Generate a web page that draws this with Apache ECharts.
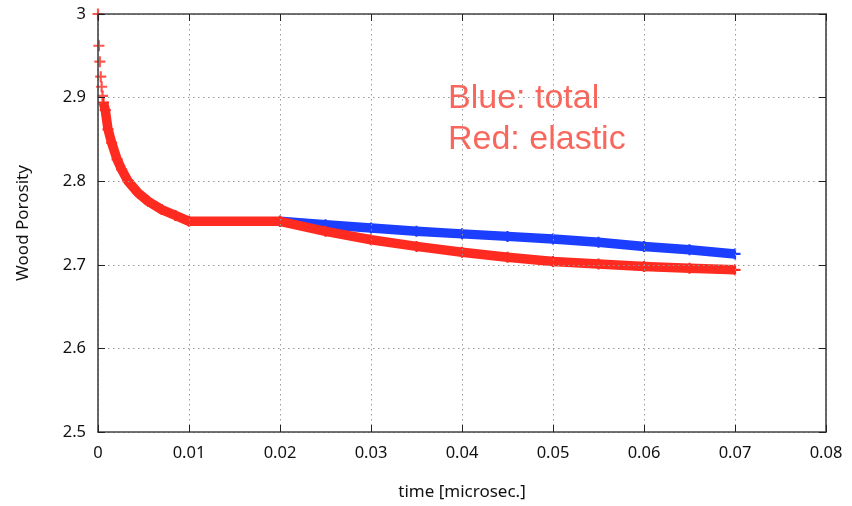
<!DOCTYPE html>
<html>
<head>
<meta charset="utf-8">
<script src="https://cdn.jsdelivr.net/npm/echarts@6/dist/echarts.min.js"></script>
<style>
html,body{margin:0;padding:0;background:#fff;}
#chart{width:852px;height:506px;}
</style>
</head>
<body>
<div id="chart"></div>
<script>
// ---- data ----
const xTicks = [0, 0.01, 0.02, 0.03, 0.04, 0.05, 0.06, 0.07, 0.08];
const yTicks = [2.5, 2.6, 2.7, 2.8, 2.9, 3];

// first separated points of the elastic (red) curve
const earlyT = [0, 0.0001, 0.0002, 0.0003, 0.0004, 0.0005];
const earlyElastic = [3.000, 2.962, 2.943, 2.925, 2.913, 2.902];

// dense part of the elastic (red) curve
const elasticT = [0.0006, 0.0008, 0.0011, 0.0015, 0.0021, 0.0026, 0.0033, 0.0044, 0.0055, 0.0070, 0.0085, 0.0100,
                  0.0200, 0.0250, 0.0300, 0.0350, 0.0400, 0.0450, 0.0500, 0.0550, 0.0600, 0.0650, 0.0700];
const elasticPorosity = [2.894, 2.885, 2.862, 2.846, 2.826, 2.814, 2.800, 2.786, 2.776, 2.766, 2.759, 2.752,
                         2.752, 2.740, 2.730, 2.722, 2.715, 2.709, 2.704, 2.701, 2.698, 2.696, 2.694];

// total (blue) curve where it separates from the elastic one
const totalT = [0.0200, 0.0250, 0.0300, 0.0350, 0.0400, 0.0450, 0.0500, 0.0550, 0.0600, 0.0650, 0.0700];
const totalPorosity = [2.752, 2.748, 2.744, 2.740, 2.737, 2.734, 2.731, 2.727, 2.722, 2.718, 2.713];

const annotationLines = ['Blue: total', 'Red: elastic'];
// ---------------------------------------

const RED = '#ff2b20';
const BLUE = '#1c3fff';
const PLUS = 'path://M0,4.4 H11 V6.6 H0 Z M4.4,0 H6.6 V11 H4.4 Z';
const FONT = 'Noto Sans';

const zip = (a, b) => a.map((v, i) => [v, b[i]]);

const chart = echarts.init(document.getElementById('chart'), null, {renderer: 'canvas'});

const tickStyle = {show: true, inside: true, length: 7, lineStyle: {color: '#222', width: 1}};
const frame = {show: true, onZero: false, lineStyle: {color: '#444', width: 1.6}};
const gridLine = {show: true, lineStyle: {color: '#9a9a9a', width: 1, type: [1.5, 3.5]}};

chart.setOption({
  animation: false,
  backgroundColor: '#fff',
  grid: {left: 98, right: 26, top: 14, bottom: 73, containLabel: false},
  xAxis: [{
    type: 'value', min: xTicks[0], max: xTicks[xTicks.length - 1], interval: 0.01,
    position: 'bottom', z: 5,
    name: 'time [microsec.]', nameLocation: 'middle', nameGap: 52,
    nameTextStyle: {fontFamily: FONT, fontSize: 17, color: '#111'},
    axisLine: frame, axisTick: tickStyle, splitLine: gridLine,
    axisLabel: {fontFamily: FONT, fontSize: 16.5, color: '#111', margin: 13,
      formatter: v => String(+v.toFixed(2))}
  }, {
    type: 'value', min: xTicks[0], max: xTicks[xTicks.length - 1], interval: 0.01,
    position: 'top', z: 5,
    axisLine: frame, axisTick: tickStyle, splitLine: {show: false}, axisLabel: {show: false}
  }],
  yAxis: [{
    type: 'value', min: yTicks[0], max: yTicks[yTicks.length - 1], interval: 0.1,
    position: 'left', z: 5,
    name: 'Wood Porosity', nameLocation: 'middle', nameGap: 66,
    nameTextStyle: {fontFamily: FONT, fontSize: 17, color: '#111'},
    axisLine: frame, axisTick: tickStyle, splitLine: gridLine,
    axisLabel: {fontFamily: FONT, fontSize: 16.5, color: '#111', margin: 12,
      formatter: v => String(+v.toFixed(1))}
  }, {
    type: 'value', min: yTicks[0], max: yTicks[yTicks.length - 1], interval: 0.1,
    position: 'right', z: 5,
    axisLine: frame, axisTick: tickStyle, splitLine: {show: false}, axisLabel: {show: false}
  }],
  graphic: [{
    type: 'text', left: 448, top: 78, z: 1,
    style: {text: annotationLines.join('\n'), fontFamily: 'Liberation Sans', fontSize: 34,
      lineHeight: 41, fill: '#f8675d'}
  }],
  series: [{
    name: 'total', type: 'line', xAxisIndex: 0, yAxisIndex: 0, z: 2,
    data: zip(totalT, totalPorosity),
    lineStyle: {color: BLUE, width: 9.5, cap: 'butt', join: 'round'},
    symbol: PLUS, symbolSize: 11, showSymbol: true, showAllSymbol: true,
    itemStyle: {color: BLUE}, clip: false
  }, {
    name: 'elastic', type: 'line', xAxisIndex: 0, yAxisIndex: 0, z: 3,
    data: zip(elasticT, elasticPorosity),
    lineStyle: {color: RED, width: 9.5, cap: 'butt', join: 'round'},
    symbol: PLUS, symbolSize: 11, showSymbol: true, showAllSymbol: true,
    itemStyle: {color: RED}, clip: false
  }, {
    name: 'elastic-early', type: 'scatter', xAxisIndex: 0, yAxisIndex: 0, z: 3,
    data: zip(earlyT, earlyElastic),
    symbol: PLUS, symbolSize: 11, itemStyle: {color: RED}, clip: false
  }]
});
</script>
</body>
</html>
